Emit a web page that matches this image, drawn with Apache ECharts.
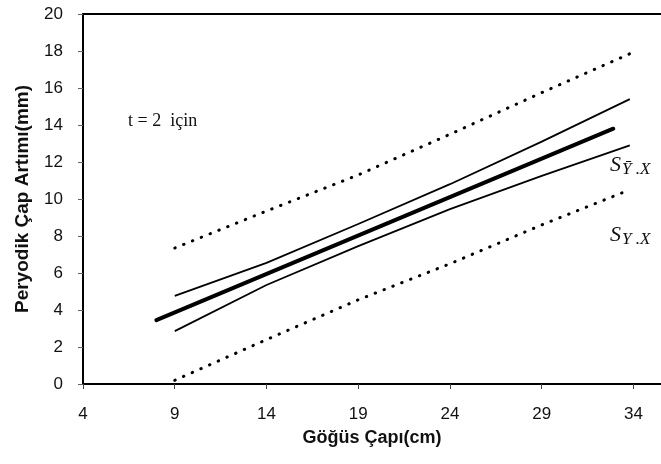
<!DOCTYPE html>
<html lang="tr">
<head>
<meta charset="UTF-8">
<title>Peryodik Çap Artımı</title>
<script src="https://cdn.jsdelivr.net/npm/echarts@6/dist/echarts.min.js"></script>
<style>
  html, body { margin: 0; padding: 0; background: #fff; }
  #chart { width: 661px; height: 464px; }
</style>
</head>
<body>
<div id="chart"></div>
<script>
// values
var xTicks = [4, 9, 14, 19, 24, 29, 34];
var bandX = [9, 14, 19, 24, 29, 33.8];
var upperPred = [7.35, 9.35, 11.3, 13.5, 15.75, 17.85];
var lowerPred = [0.2, 2.4, 4.55, 6.5, 8.6, 10.5];
var upperConf = [4.76, 6.55, 8.65, 10.8, 13.1, 15.4];
var lowerConf = [2.86, 5.35, 7.45, 9.45, 11.25, 12.9];
var fitX = [8, 32.9];
var fitY = [3.45, 13.8];

function pairs(xs, ys) {
  return xs.map(function (x, i) { return [x, ys[i]]; });
}

var chart = echarts.init(document.getElementById('chart'));

var sansFont = '"Liberation Sans", Arial, sans-serif';
var serifFont = '"Liberation Serif", "Times New Roman", serif';

var thin = { color: '#000', width: 1.8 };
var dotted = { color: '#000', width: 3, type: [0.5, 9], cap: 'round' };

var subLabel = function (sub) {
  return {
    type: 'text',
    style: {
      text: '{s|S}{sub|' + sub + '}',
      rich: {
        s: { fontFamily: serifFont, fontStyle: 'italic', fontSize: 22, lineHeight: 26, fill: '#111' },
        sub: { fontFamily: serifFont, fontStyle: 'italic', fontSize: 17, lineHeight: 18, verticalAlign: 'bottom', fill: '#111', padding: [0, 0, 0, 1] }
      }
    }
  };
};

var option = {
  animation: false,
  backgroundColor: '#fff',
  grid: { left: 83, right: 0, top: 14, bottom: 80 },
  xAxis: [{
    type: 'value',
    min: 4,
    max: 35.5,
    name: 'Göğüs Çapı(cm)',
    nameLocation: 'middle',
    nameGap: 45,
    nameTextStyle: { fontFamily: sansFont, fontSize: 18, fontWeight: 'bold', color: '#111' },
    axisLine: { show: true, lineStyle: { color: '#000', width: 2 } },
    axisTick: { show: true, length: 5, customValues: xTicks, lineStyle: { color: '#444' } },
    axisLabel: { customValues: xTicks, margin: 22, fontFamily: sansFont, fontSize: 17, color: '#111' },
    splitLine: { show: false }
  }, {
    type: 'value',
    position: 'top',
    min: 4,
    max: 35.5,
    axisLine: { show: true, lineStyle: { color: '#000', width: 2 } },
    axisTick: { show: false },
    axisLabel: { show: false },
    splitLine: { show: false }
  }],
  yAxis: {
    type: 'value',
    min: 0,
    max: 20,
    interval: 2,
    name: 'Peryodik Çap Artımı(mm)',
    nameLocation: 'middle',
    nameGap: 51,
    nameTextStyle: { fontFamily: sansFont, fontSize: 19, fontWeight: 'bold', color: '#111' },
    axisLine: { show: true, lineStyle: { color: '#000', width: 2 } },
    axisTick: { show: true, length: 5, lineStyle: { color: '#666' } },
    axisLabel: { margin: 20, fontFamily: sansFont, fontSize: 17, color: '#111' },
    splitLine: { show: false }
  },
  series: [
    { name: 'upperPred', type: 'line', data: pairs(bandX, upperPred), showSymbol: false, lineStyle: dotted },
    { name: 'lowerPred', type: 'line', data: pairs(bandX, lowerPred), showSymbol: false, lineStyle: dotted },
    { name: 'upperConf', type: 'line', data: pairs(bandX, upperConf), showSymbol: false, lineStyle: thin },
    { name: 'lowerConf', type: 'line', data: pairs(bandX, lowerConf), showSymbol: false, lineStyle: thin },
    { name: 'fit', type: 'line', data: pairs(fitX, fitY), showSymbol: false, lineStyle: { color: '#000', width: 4, cap: 'round' } }
  ],
  graphic: [
    {
      type: 'text', left: 128, top: 112,
      style: { text: 't = 2  için', fontFamily: serifFont, fontSize: 18, fill: '#111' }
    },
    Object.assign(subLabel('Ȳ .X'), { left: 610, top: 154 }),
    Object.assign(subLabel('Y .X'), { left: 610, top: 224 })
  ]
};

chart.setOption(option);
</script>
</body>
</html>
